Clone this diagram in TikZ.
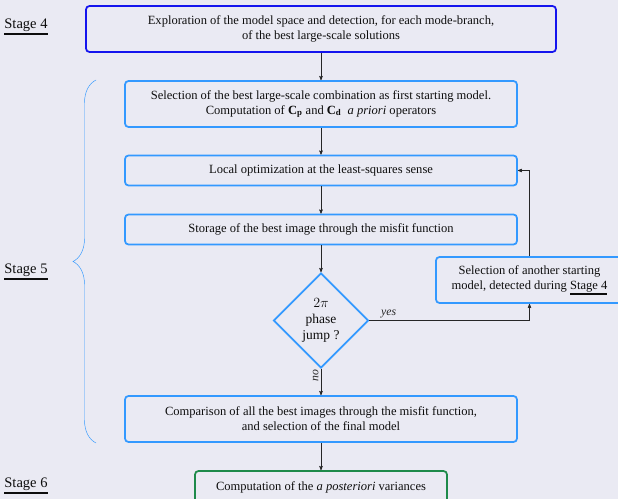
\documentclass[tikz,border=0pt]{standalone}
\usepackage{fontspec}
\setmainfont{Liberation Serif}
\newcommand\stageul[1]{\leavevmode\vtop{\hbox{#1}\kern1.2pt\hrule height 1.1pt}}
\usetikzlibrary{arrows,shapes.geometric,decorations.pathreplacing}

\definecolor{bgcol}{HTML}{EAEAF3}
\definecolor{darkstage}{HTML}{1414EE}
\definecolor{loopblue}{HTML}{3399FF}
\definecolor{endgreen}{HTML}{1E8A4A}

\begin{document}
\begin{tikzpicture}[x=0.3mm,y=-0.3mm]

\tikzset{
    box/.style={draw=loopblue,line width=1.5pt,rounded corners=3pt,align=center,text=black!95,inner sep=2pt,
        font=\fontsize{10.7}{12.8}\selectfont},
    wide/.style={box,minimum width=117.6mm},
    flow/.style={->,>=stealth',thin,black!85},
    stagelabel/.style={text=black!95,font=\fontsize{12.4}{14}\selectfont}}

\useasboundingbox (0,0) rectangle (618,499);
\fill[bgcol] (0,0) rectangle (618,499);

\node[stagelabel] (s4) at (26,27) {\stageul{Stage 4}};
\node[stagelabel] (s5) at (26,272) {\stageul{Stage 5}};
\node[stagelabel] (s6) at (26,486) {\stageul{Stage 6}};

\node[box, draw=darkstage, minimum width=141mm, minimum height=13.8mm] (explore) at (321,29) {Exploration of the model space and detection, for each mode-branch,\\ of the best large-scale solutions};

\node[wide, minimum height=13.8mm] (select) at (321,104) {Selection of the best large-scale combination as first starting model.\\ Computation of $\mathbf{C_p}$ and $\mathbf{C_d}$ \ \textit{a priori} operators};

\node[wide, minimum height=9mm] (local) at (321,170.5) {Local optimization at the least-squares sense};

\node[wide, minimum height=9mm] (store) at (321,229.5) {Storage of the best image through the misfit function};

\node[box, shape=diamond, rounded corners=0pt, minimum width=28.5mm, minimum height=28.5mm, inner sep=0pt,
    font=\fontsize{11.5}{13.5}\selectfont] (jump) at (321,320.5) {$2\pi$\\ phase\\ jump ?};

\node[box, minimum width=56.1mm, minimum height=13.8mm] (other) at (529.5,280) {Selection of another starting\\ model, detected during \stageul{Stage 4}};

\node[wide, minimum height=13.8mm] (compare) at (321,419) {Comparison of all the best images through the misfit function,\\ and selection of the final model};

\node[box, draw=endgreen, minimum width=75.6mm, minimum height=9.6mm] (post) at (321,487) {Computation of the \textit{a posteriori} variances};

\draw[flow] (explore) -- (select);
\draw[flow] (select) -- (local);
\draw[flow] (local) -- (store);
\draw[flow] (store) -- (jump);
\draw[flow] (jump) -- (compare) node[pos=0.25, rotate=90, anchor=south, font=\itshape, inner sep=2pt] {no};
\draw[flow] (compare) -- (post);
\draw[flow] (jump.east) -| (other.south) node[pos=0.06, above, font=\itshape, inner sep=2pt] {yes};
\draw[flow] (other.north) |- (local.east);

\draw[loopblue, thin, decorate, decoration={brace, amplitude=6.9mm}] (96,443) -- (96,80);

\end{tikzpicture}
\end{document}
